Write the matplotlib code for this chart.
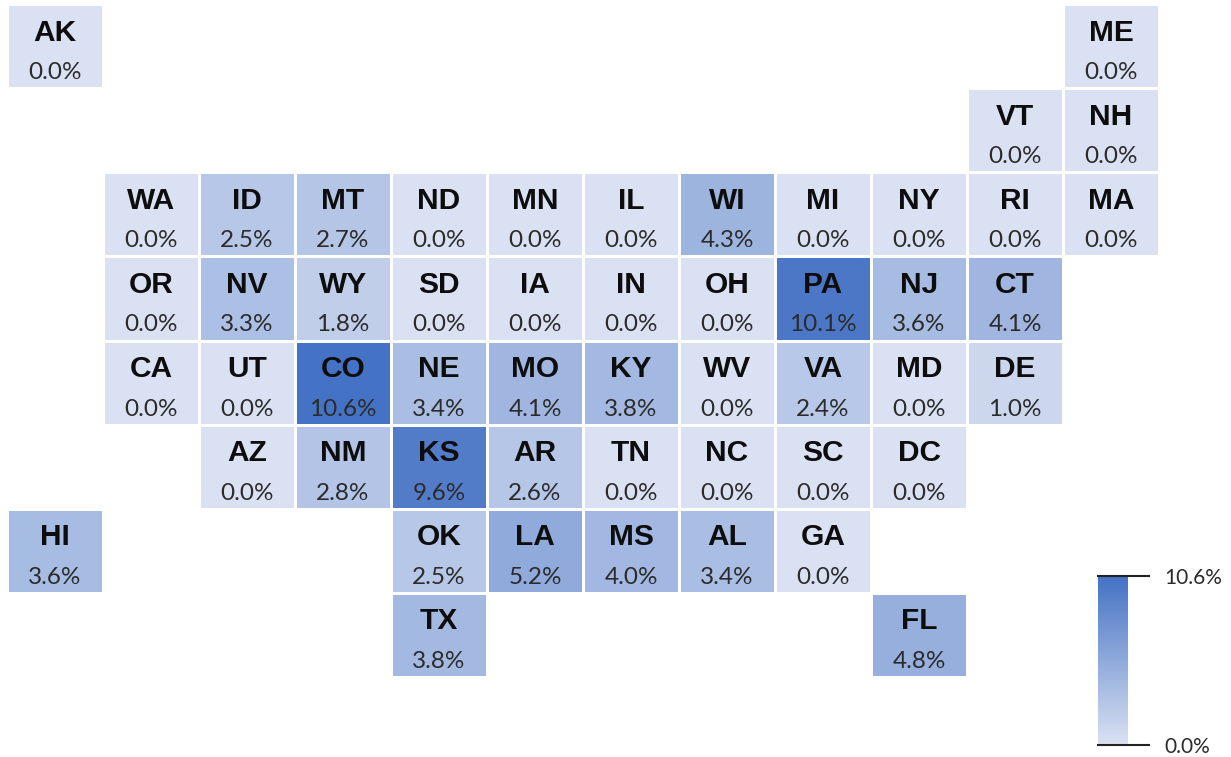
import matplotlib
matplotlib.use("Agg")
import matplotlib.pyplot as plt
import numpy as np
from matplotlib.colors import LinearSegmentedColormap, Normalize

# tile map layout, '.' is an empty cell
tileRows = [
    "AK . . . . . . . . . . ME",
    ". . . . . . . . . . VT NH",
    ". WA ID MT ND MN IL WI MI NY RI MA",
    ". OR NV WY SD IA IN OH PA NJ CT .",
    ". CA UT CO NE MO KY WV VA MD DE .",
    ". . AZ NM KS AR TN NC SC DC . .",
    "HI . . . OK LA MS AL GA . . .",
    ". . . . TX . . . . FL . .",
]

states = ["AK", "ME", "VT", "NH",
          "WA", "ID", "MT", "ND", "MN", "IL", "WI", "MI", "NY", "RI", "MA",
          "OR", "NV", "WY", "SD", "IA", "IN", "OH", "PA", "NJ", "CT",
          "CA", "UT", "CO", "NE", "MO", "KY", "WV", "VA", "MD", "DE",
          "AZ", "NM", "KS", "AR", "TN", "NC", "SC", "DC",
          "HI", "OK", "LA", "MS", "AL", "GA",
          "TX", "FL"]
shares = [0.0, 0.0, 0.0, 0.0,
          0.0, 2.5, 2.7, 0.0, 0.0, 0.0, 4.3, 0.0, 0.0, 0.0, 0.0,
          0.0, 3.3, 1.8, 0.0, 0.0, 0.0, 0.0, 10.1, 3.6, 4.1,
          0.0, 0.0, 10.6, 3.4, 4.1, 3.8, 0.0, 2.4, 0.0, 1.0,
          0.0, 2.8, 9.6, 2.6, 0.0, 0.0, 0.0, 0.0,
          3.6, 2.5, 5.2, 4.0, 3.4, 0.0,
          3.8, 4.8]
scaleTicks = [0.0, 10.6]

W, H = 1231, 757
plt.rcParams['font.family'] = ['Lato', 'DejaVu Sans']

fig = plt.figure(figsize=(W / 100, H / 100), dpi=100)

cmap = LinearSegmentedColormap.from_list("blues", ["#DAE1F2", "#4472C4"])
norm = Normalize(min(scaleTicks), max(scaleTicks))

# map axes, one unit is one tile (96 x 84 px)
ax = fig.add_axes([7 / W, 1 - 677 / H, 1152 / W, 673 / H])
lookup = dict(zip(states, shares))
grid = np.full((len(tileRows), 12), np.nan)
for r, row in enumerate(tileRows):
    for c, code in enumerate(row.split()):
        if code != ".":
            grid[r, c] = lookup[code]
            ax.text(c + 0.5, r + 0.34, code, ha='center', va='center',
                    fontsize=21.5, fontweight='bold', color='#0d0d0d',
                    family='Liberation Sans')
            ax.text(c + 0.5, r + 0.815, "%.1f%%" % lookup[code], ha='center', va='center',
                    fontsize=17.5, color='#2b2b2b')

mesh = ax.pcolormesh(np.ma.masked_invalid(grid), cmap=cmap, norm=norm,
                     edgecolors='white', linewidth=1.0)
ax.set_xlim(0, 12)
ax.set_ylim(len(tileRows), 0)
ax.axis('off')

# colour scale
cax = fig.add_axes([1098 / W, 1 - 745 / H, 30 / W, 169 / H])
cbar = fig.colorbar(mesh, cax=cax, ticks=scaleTicks)
cbar.outline.set_visible(False)
cbar.ax.set_yticklabels(["%.1f%%" % t for t in scaleTicks], fontsize=15, color='#2b2b2b')
cbar.ax.tick_params(length=0, pad=26)
for t in scaleTicks:
    cax.plot([0, 1.7], [t, t], color='#222222', lw=1.5, clip_on=False,
             transform=cax.get_yaxis_transform())

fig.savefig("out.png", dpi=100)
